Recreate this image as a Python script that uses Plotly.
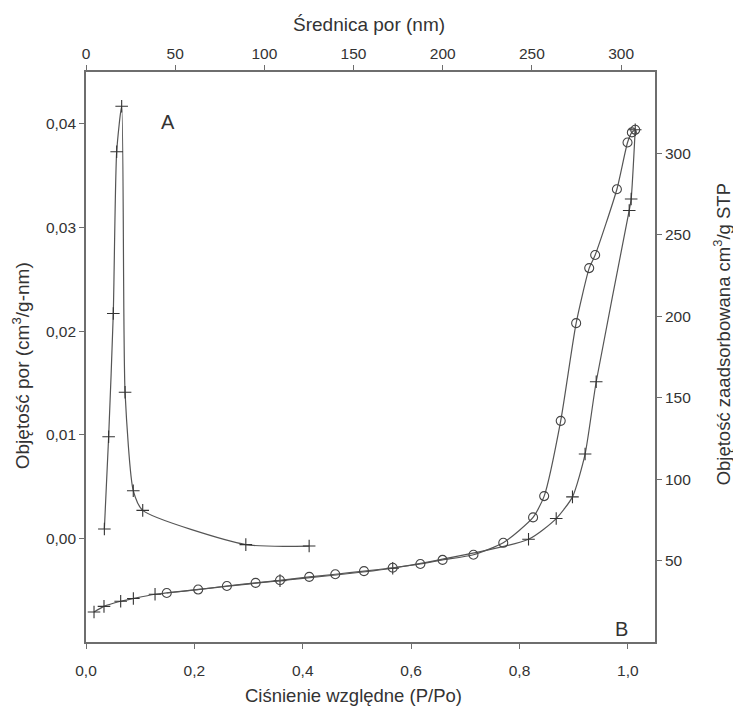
import plotly.graph_objects as go

# Series A: pore size distribution (top axis nm, left axis)
pore_d_nm = [10.3, 12.7, 15.3, 17.2, 20.0, 21.9, 26.5, 31.8, 89.6, 125.1]
pore_vol = [0.0009, 0.0098, 0.0217, 0.0373, 0.0417, 0.0141, 0.0046, 0.0027, -0.0006, -0.00074]

# Series B: isotherm (bottom axis P/Po, right axis)
ads_p = [0.0148, 0.0332, 0.064, 0.0874, 0.1274, 0.358, 0.566, 0.8166, 0.8677, 0.8977, 0.921, 0.9415, 1.0024, 1.006, 1.0135]
ads_v = [18.4, 21.9, 25.0, 26.7, 29.3, 37.7, 45.3, 63.1, 75.8, 89.1, 115.4, 159.8, 265.0, 272.0, 314.5]

des_p = [1.0135, 1.0073, 0.9993, 0.9797, 0.9396, 0.9286, 0.9045, 0.876, 0.8455, 0.825, 0.770, 0.715,
         0.658, 0.617, 0.566, 0.513, 0.46, 0.412, 0.358, 0.313, 0.26, 0.207, 0.149]
des_v = [314.5, 312.9, 306.7, 278.0, 237.6, 229.6, 195.8, 135.8, 89.6, 76.5, 60.9, 53.6,
         50.4, 47.9, 45.6, 43.5, 41.6, 40.0, 37.9, 36.3, 34.4, 32.2, 30.1]

x_ticks = [0.0, 0.2, 0.4, 0.6, 0.8, 1.0]
x_ticktext = ["0,0", "0,2", "0,4", "0,6", "0,8", "1,0"]
x2_ticks = [0, 50, 100, 150, 200, 250, 300]
yl_ticks = [0.00, 0.01, 0.02, 0.03, 0.04]
yl_ticktext = ["0,00", "0,01", "0,02", "0,03", "0,04"]
yr_ticks = [50, 100, 150, 200, 250, 300]

LINE = "#555555"
AX = "#6e6e6e"
TXT = "#333333"
FONT = "Liberation Sans, Arial, sans-serif"

fig = go.Figure()

# isotherm on base subplot (x bottom, y right)
fig.add_trace(go.Scatter(
    x=ads_p, y=ads_v, xaxis="x", yaxis="y",
    mode="lines+markers", line=dict(color=LINE, width=1.2, shape="spline", smoothing=0.6),
    marker=dict(symbol="cross-thin", size=9, line=dict(color="#333333", width=1.1)),
    showlegend=False))

fig.add_trace(go.Scatter(
    x=des_p, y=des_v, xaxis="x", yaxis="y",
    mode="lines+markers", line=dict(color=LINE, width=1.2, shape="spline", smoothing=0.6),
    marker=dict(symbol="circle-open", size=9, color="#444444", line=dict(color="#444444", width=1.1)),
    showlegend=False))

# pore distribution on overlay subplot (x2 top, y2 left)
fig.add_trace(go.Scatter(
    x=pore_d_nm, y=pore_vol, xaxis="x2", yaxis="y2",
    mode="lines+markers", line=dict(color=LINE, width=1.2, shape="spline", smoothing=0.6),
    marker=dict(symbol="cross-thin", size=9, line=dict(color="#333333", width=1.1)),
    showlegend=False))

axis_common = dict(showgrid=False, zeroline=False, showline=True, linecolor=AX, linewidth=1.6,
                   ticks="outside", ticklen=5, tickwidth=1.2, tickcolor=AX, automargin=False,
                   tickfont=dict(family=FONT, size=15.5, color=TXT))

def title_ann(text, x, y, size, angle=0):
    return dict(text=text, x=x, y=y, xref="paper", yref="paper", showarrow=False,
                xanchor="center", yanchor="middle", textangle=angle,
                font=dict(family=FONT, size=size, color=TXT))

fig.update_layout(
    width=733, height=703,
    margin=dict(l=78, r=86, t=64, b=69),
    paper_bgcolor="white", plot_bgcolor="white",
    font=dict(family=FONT, color=TXT),
    xaxis=dict(range=[0, 1.05], tickvals=x_ticks, ticktext=x_ticktext, side="bottom", anchor="y",
               ticklabelstandoff=9, **axis_common),
    yaxis=dict(range=[0, 350], tickvals=yr_ticks, side="right", anchor="x", **axis_common),
    xaxis2=dict(range=[0, 319], tickvals=x2_ticks, overlaying="x", side="top", anchor="y2", **axis_common),
    yaxis2=dict(range=[-0.01, 0.045], tickvals=yl_ticks, ticktext=yl_ticktext, overlaying="y",
                side="left", anchor="x2", **axis_common),
    annotations=[
        title_ann("Ciśnienie względne (P/Po)", 0.471, -0.093, 18.5),
        title_ann("Średnica por (nm)", 0.497, 1.084, 19),
        title_ann("Objętość por (cm<sup>3</sup>/g-nm)", -0.114, 0.484, 19, -90),
        title_ann("Objętość zaadsorbowana cm<sup>3</sup>/g STP", 1.117, 0.539, 18.5, -90),
        dict(text="A", x=0.144, y=0.912, xref="paper", yref="paper", showarrow=False,
             xanchor="center", yanchor="middle", font=dict(family=FONT, size=20, color=TXT)),
        dict(text="B", x=0.942, y=0.023, xref="paper", yref="paper", showarrow=False,
             xanchor="center", yanchor="middle", font=dict(family=FONT, size=20, color=TXT)),
    ],
)

fig.write_html("out.html")
